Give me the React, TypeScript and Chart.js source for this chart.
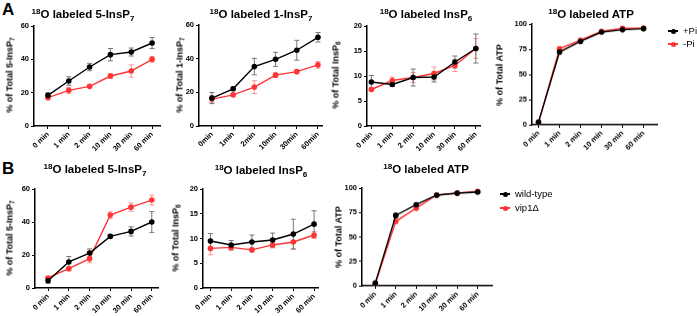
import React, { useEffect, useRef } from 'react';
import { Chart, registerables } from 'chart.js';

Chart.register(...registerables);

// ---------- data ----------
const timeLabels = ['0 min', '1 min', '2 min', '10 min', '30 min', '60 min'];
const timeLabelsCompact = ['0min', '1min', '2min', '10min', '30min', '60min'];

const a1PlusPi = [18.4, 27, 35.4, 42.8, 44.4, 49.8];
const a1PlusPiSd = [1.5, 2.5, 2.2, 3.7, 2.4, 3.3];
const a1MinusPi = [17, 21.4, 23.8, 30, 33, 40];
const a1MinusPiSd = [0.8, 1.8, 0.8, 1.5, 3.7, 1.7];

const a2PlusPi = [16.6, 22.1, 35.3, 39.6, 45, 52.7];
const a2PlusPiSd = [3.3, 1, 4.9, 4.2, 5.9, 2.8];
const a2MinusPi = [16, 18.5, 23.1, 30.2, 32.3, 36.3];
const a2MinusPiSd = [2, 1, 3.8, 1.4, 0.8, 2];

const a3PlusPi = [8.8, 8.3, 9.7, 9.8, 12.8, 15.5];
const a3PlusPiSd = [1.3, 0.4, 1.7, 1, 1.2, 2.9];
const a3MinusPi = [7.3, 9.1, 9.7, 10.5, 12.1, 15.5];
const a3MinusPiSd = [0.3, 0.7, 1, 1.3, 1.2, 2];

const a4PlusPi = [2.6, 72.2, 82.8, 92, 94.4, 95.4];
const a4PlusPiSd = [0.5, 1.5, 1, 0.8, 0.5, 0.5];
const a4MinusPi = [2.3, 75.5, 84, 92.7, 95.7, 96];
const a4MinusPiSd = [0.5, 1.5, 1, 0.5, 0.5, 0.5];

const b1WildType = [4.4, 15.8, 21.2, 31.3, 34.3, 40];
const b1WildTypeSd = [1.4, 3.3, 2.5, 1.2, 2.8, 6.3];
const b1Vip1 = [6.1, 11.7, 17.8, 44.2, 49, 53.3];
const b1Vip1Sd = [0.8, 1, 2.5, 2, 2.5, 3];

const b2WildType = [9.5, 8.7, 9.3, 9.7, 10.9, 12.9];
const b2WildTypeSd = [1.5, 0.9, 1.4, 1.4, 3, 2.7];
const b2Vip1 = [8, 8.2, 7.7, 8.7, 9.3, 10.7];
const b2Vip1Sd = [1.3, 0.6, 0.4, 0.6, 1.5, 0.7];

const b3WildType = [2.7, 72, 83, 92.8, 94.9, 95.9];
const b3WildTypeSd = [0.5, 2, 1, 0.5, 0.5, 0.5];
const b3Vip1 = [2, 65.9, 79.5, 92.8, 94.9, 96.6];
const b3Vip1Sd = [0.5, 2, 1, 0.5, 0.5, 0.5];

// ---------- styles ----------
const FONT = '"Liberation Sans", Arial, Helvetica, sans-serif';
const BLACK = '#000000';
const RED = '#ff3535';
const BLACK_ERR = '#6a6a6a';
const RED_ERR = '#ff8a8a';

const YW = 36; // y-axis box width
const XH = 38; // x-axis box height
const PT = 6;
const PR = 6;

const errorBarPlugin = {
  id: 'errorBars',
  beforeDatasetsDraw(chart: any) {
    const ctx = chart.ctx;
    const xs = chart.scales.x;
    const ys = chart.scales.y;
    const dss = chart.data.datasets;
    ctx.save();
    for (let d = dss.length - 1; d >= 0; d--) {
      const ds = dss[d];
      const errs: number[] = ds.errors || [];
      ctx.strokeStyle = ds.errorColor;
      ctx.lineWidth = 0.9;
      ds.data.forEach((p: any, i: number) => {
        const e = errs[i] || 0;
        if (!e) return;
        const x = xs.getPixelForValue(p.x);
        const y1 = ys.getPixelForValue(p.y + e);
        const y2 = ys.getPixelForValue(p.y - e);
        ctx.beginPath();
        ctx.moveTo(x, y1);
        ctx.lineTo(x, y2);
        ctx.moveTo(x - 2.5, y1);
        ctx.lineTo(x + 2.5, y1);
        ctx.moveTo(x - 2.5, y2);
        ctx.lineTo(x + 2.5, y2);
        ctx.stroke();
      });
    }
    ctx.restore();
  },
};

type Series = { name: string; values: number[]; errors: number[]; color: string; errColor: string };
type PanelProps = {
  l: number; t: number; r: number; b: number;
  xMin: number; xMax: number; yMax: number; yStep: number;
  labels: string[]; series: Series[];
};

function Panel(p: PanelProps) {
  const ref = useRef<HTMLCanvasElement | null>(null);
  const width = p.r - p.l + YW + PR;
  const height = p.b - p.t + PT + XH;
  useEffect(() => {
    if (!ref.current) return;
    const yFont = { family: FONT, size: 7.5, weight: 'bold' as const };
    const xFont = { family: FONT, size: 7.5, weight: 'bold' as const };
    const chart = new Chart(ref.current, {
      type: 'line',
      data: {
        datasets: p.series.map((s) => ({
          label: s.name,
          data: s.values.map((v, i) => ({ x: i, y: v })),
          errors: s.errors,
          errorColor: s.errColor,
          borderColor: s.color,
          backgroundColor: s.color,
          pointBackgroundColor: s.color,
          pointBorderColor: s.color,
          pointBorderWidth: 0,
          pointRadius: 2.8,
          borderWidth: 1.4,
          tension: 0,
        })) as any,
      },
      options: {
        animation: false,
        responsive: false,
        layout: { padding: { left: 0, top: PT, right: PR, bottom: 0 } },
        plugins: { legend: { display: false }, tooltip: { enabled: false }, title: { display: false } },
        scales: {
          x: {
            type: 'linear',
            min: p.xMin,
            max: p.xMax,
            afterBuildTicks: (s: any) => {
              s.ticks = p.labels.map((_, i) => ({ value: i }));
            },
            afterFit: (s: any) => {
              s.height = XH;
              s.paddingLeft = 0;
              s.paddingRight = 0;
            },
            ticks: {
              autoSkip: false,
              minRotation: 45,
              maxRotation: 45,
              padding: 1,
              color: BLACK,
              font: xFont,
              callback: (v: any) => p.labels[v] ?? '',
            },
            grid: { display: true, drawOnChartArea: false, drawTicks: true, tickLength: 3, color: BLACK, lineWidth: 1 },
            border: { display: true, color: BLACK, width: 1.5 },
          },
          y: {
            type: 'linear',
            min: 0,
            max: p.yMax,
            afterFit: (s: any) => {
              s.width = YW;
              s.paddingTop = 0;
              s.paddingBottom = 0;
            },
            ticks: { stepSize: p.yStep, padding: 2, color: BLACK, font: yFont },
            grid: { display: true, drawOnChartArea: false, drawTicks: true, tickLength: 3, color: BLACK, lineWidth: 1 },
            border: { display: true, color: BLACK, width: 1.5 },
          },
        },
      } as any,
      plugins: [errorBarPlugin],
    });
    return () => chart.destroy();
  }, []);
  return (
    <canvas
      ref={ref}
      width={width}
      height={height}
      style={{ position: 'absolute', left: p.l - YW, top: p.t - PT, width, height }}
    />
  );
}

const subStyle: React.CSSProperties = { fontSize: '0.7em', position: 'relative', top: '0.35em' };
const supStyle: React.CSSProperties = { fontSize: '0.7em', position: 'relative', top: '-0.45em' };

function Title({ x, y, pre, main, sub }: { x: number; y: number; pre?: string; main: string; sub?: string }) {
  return (
    <div
      style={{
        position: 'absolute', left: x, top: y, transform: 'translate(-50%, -50%)',
        whiteSpace: 'nowrap', fontFamily: FONT, fontWeight: 'bold', fontSize: 11.5, lineHeight: 1, color: BLACK,
      }}
    >
      {pre ? <span style={supStyle}>{pre}</span> : null}
      {main}
      {sub ? <span style={subStyle}>{sub}</span> : null}
    </div>
  );
}

function YTitle({ x, y, main, sub }: { x: number; y: number; main: string; sub?: string }) {
  return (
    <div
      style={{
        position: 'absolute', left: x, top: y, transform: 'translate(-50%, -50%) rotate(-90deg)',
        whiteSpace: 'nowrap', fontFamily: FONT, fontWeight: 'bold', fontSize: 9, lineHeight: 1, color: BLACK,
      }}
    >
      {main}
      {sub ? <span style={subStyle}>{sub}</span> : null}
    </div>
  );
}

function LegendItem({ x, y, color, label }: { x: number; y: number; color: string; label: string }) {
  return (
    <div style={{ position: 'absolute', left: x, top: y }}>
      <div style={{ position: 'absolute', left: 0, top: -0.75, width: 10, height: 1.5, background: color }} />
      <div style={{ position: 'absolute', left: 2.5, top: -2.5, width: 5, height: 5, borderRadius: 3, background: color }} />
      <div
        style={{
          position: 'absolute', left: 15, top: 0, transform: 'translateY(-50%)', whiteSpace: 'nowrap',
          fontFamily: FONT, fontSize: 9.5, lineHeight: 1, color: BLACK,
        }}
      >
        {label}
      </div>
    </div>
  );
}

export default function App() {
  const pair = (a: number[], ae: number[], b: number[], be: number[], an: string, bn: string): Series[] => [
    { name: an, values: a, errors: ae, color: BLACK, errColor: BLACK_ERR },
    { name: bn, values: b, errors: be, color: RED, errColor: RED_ERR },
  ];
  return (
    <div style={{ position: 'absolute', left: 0, top: 0, width: 697, height: 316, background: '#fff', overflow: 'hidden' }}>
      <div style={{ position: 'absolute', left: 2, top: 1, fontFamily: FONT, fontWeight: 'bold', fontSize: 17, lineHeight: 1 }}>A</div>
      <div style={{ position: 'absolute', left: 2, top: 160, fontFamily: FONT, fontWeight: 'bold', fontSize: 17, lineHeight: 1 }}>B</div>

      {/* Row A */}
      <Panel l={34} t={25.5} r={160} b={125.5} xMin={-0.67} xMax={5.38} yMax={60} yStep={20} labels={timeLabels}
        series={pair(a1PlusPi, a1PlusPiSd, a1MinusPi, a1MinusPiSd, '+Pi', '-Pi')} />
      <Title x={83} y={15} pre="18" main="O labeled 5-InsP" sub="7" />
      <YTitle x={10} y={75} main="% of Total 5-InsP" sub="7" />

      <Panel l={199} t={24.5} r={322} b={125.7} xMin={-0.61} xMax={5.19} yMax={60} yStep={20} labels={timeLabelsCompact}
        series={pair(a2PlusPi, a2PlusPiSd, a2MinusPi, a2MinusPiSd, '+Pi', '-Pi')} />
      <Title x={261} y={15} pre="18" main="O labeled 1-InsP" sub="7" />
      <YTitle x={180} y={75} main="% of Total 1-InsP" sub="7" />

      <Panel l={367} t={25.7} r={480} b={125.7} xMin={-0.21} xMax={5.2} yMax={20} yStep={5} labels={timeLabels}
        series={pair(a3PlusPi, a3PlusPiSd, a3MinusPi, a3MinusPiSd, '+Pi', '-Pi')} />
      <Title x={426} y={15} pre="18" main="O labeled InsP" sub="6" />
      <YTitle x={336} y={75} main="% of Total InsP" sub="6" />

      <Panel l={532} t={24.3} r={657} b={125} xMin={-0.31} xMax={5.64} yMax={100} yStep={25} labels={timeLabels}
        series={pair(a4PlusPi, a4PlusPiSd, a4MinusPi, a4MinusPiSd, '+Pi', '-Pi')} />
      <Title x={591} y={15} pre="18" main="O labeled ATP" />
      <YTitle x={500} y={75} main="% of Total ATP" />
      <LegendItem x={668} y={31} color={BLACK} label="+Pi" />
      <LegendItem x={668} y={44} color={RED} label="-Pi" />

      {/* Row B */}
      <Panel l={34.5} t={189.3} r={158} b={288.3} xMin={-0.63} xMax={5.3} yMax={60} yStep={20} labels={timeLabels}
        series={pair(b1WildType, b1WildTypeSd, b1Vip1, b1Vip1Sd, 'wild-type', 'vip1Δ')} />
      <Title x={95} y={170} pre="18" main="O labeled 5-InsP" sub="7" />
      <YTitle x={10} y={238} main="% of Total 5-InsP" sub="7" />

      <Panel l={203.3} t={189} r={318.3} b={288.3} xMin={-0.36} xMax={5.19} yMax={20} yStep={5} labels={timeLabels}
        series={pair(b2WildType, b2WildTypeSd, b2Vip1, b2Vip1Sd, 'wild-type', 'vip1Δ')} />
      <Title x={261} y={171} pre="18" main="O labeled InsP" sub="6" />
      <YTitle x={176} y={238} main="% of Total InsP" sub="6" />

      <Panel l={361.7} t={188.3} r={491.7} b={286} xMin={-0.65} xMax={5.7} yMax={100} yStep={25} labels={timeLabels}
        series={pair(b3WildType, b3WildTypeSd, b3Vip1, b3Vip1Sd, 'wild-type', 'vip1Δ')} />
      <Title x={426} y={170} pre="18" main="O labeled ATP" />
      <YTitle x={339} y={237} main="% of Total ATP" />
      <LegendItem x={500} y={194} color={BLACK} label="wild-type" />
      <LegendItem x={500} y={208} color={RED} label="vip1Δ" />
    </div>
  );
}
